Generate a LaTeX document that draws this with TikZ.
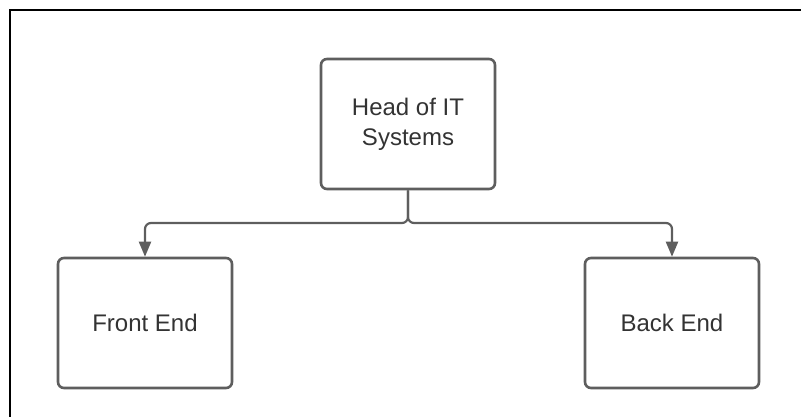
\documentclass[tikz,border=0pt]{standalone}
\usepackage{fontspec}
\setmainfont{Liberation Sans}
\usetikzlibrary{arrows.meta}
\definecolor{linegray}{HTML}{5E5E5E}
\definecolor{textgray}{HTML}{333333}
\tikzset{
  box/.style={draw=linegray, line width=2.6pt, rounded corners=6pt, minimum width=174pt, minimum height=130pt, inner sep=0pt, align=center, text=textgray, font=\fontsize{24}{30}\selectfont},
  conn/.style={draw=linegray, line width=2.2pt, rounded corners=6pt, -{Triangle[length=15pt,width=12pt]}},
}
\begin{document}
\begin{tikzpicture}[x=1pt,y=-1pt]
\useasboundingbox (0,0) rectangle (801,417);
\draw[black, line width=2pt] (801,10) -- (10,10) -- (10,417);
\node[box] (head) at (408,124) {Head of IT\\Systems};
\node[box] (front) at (145,323) {Front End};
\node[box] (back) at (672,323) {Back End};
\coordinate (j) at (408,223);
\draw[conn] (head.south) -- (j) -| (front.north);
\draw[conn] (head.south) -- (j) -| (back.north);
\end{tikzpicture}
\end{document}
